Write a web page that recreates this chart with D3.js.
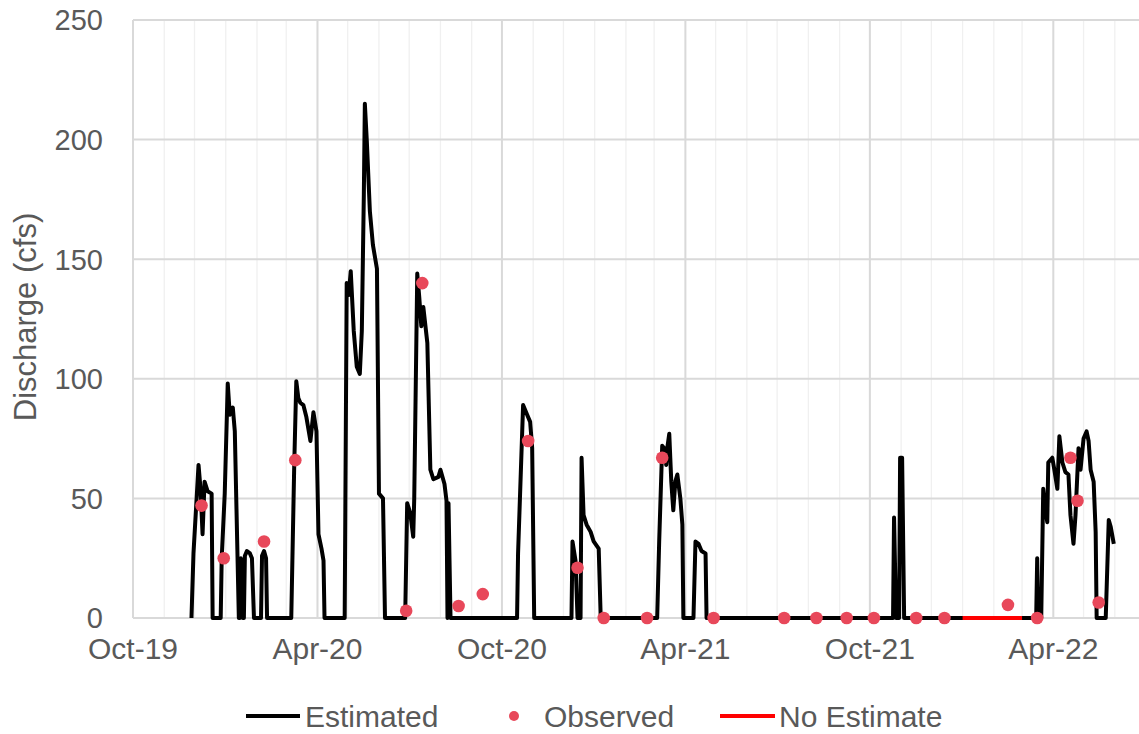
<!DOCTYPE html>
<html><head><meta charset="utf-8">
<script src="https://cdn.jsdelivr.net/npm/d3@7"></script>
<style>
body{margin:0;background:#fff}
svg{display:block}
text{font-family:"Liberation Sans",Arial,sans-serif;fill:#595959}
</style>
</head><body><svg id="c" width="1139" height="734"></svg>
<script>
const estDates = ["2019-11-28","2019-11-30","2019-12-05","2019-12-07","2019-12-09","2019-12-11","2019-12-14","2019-12-18","2019-12-19",
"2019-12-27","2019-12-28","2019-12-31","2020-01-03","2020-01-05","2020-01-08","2020-01-10","2020-01-14",
"2020-01-15","2020-01-16","2020-01-18","2020-01-19","2020-01-20","2020-01-22","2020-01-25","2020-01-27","2020-01-29",
"2020-02-05","2020-02-06","2020-02-08","2020-02-10","2020-02-11",
"2020-03-06","2020-03-09","2020-03-11","2020-03-13","2020-03-15","2020-03-18","2020-03-21","2020-03-25","2020-03-28","2020-03-31",
"2020-04-02","2020-04-05","2020-04-07","2020-04-08","2020-04-28",
"2020-04-30","2020-05-02","2020-05-04","2020-05-07","2020-05-10","2020-05-13","2020-05-15","2020-05-17","2020-05-18","2020-05-20",
"2020-05-23","2020-05-26","2020-05-30","2020-06-01","2020-06-05","2020-06-07","2020-06-27","2020-06-29","2020-07-02","2020-07-05",
"2020-07-06","2020-07-09","2020-07-11","2020-07-13","2020-07-15","2020-07-19","2020-07-22","2020-07-25","2020-07-30","2020-08-01",
"2020-08-05","2020-08-07","2020-08-08","2020-08-09","2020-08-11","2020-10-16","2020-10-17","2020-10-22","2020-10-26","2020-10-29",
"2020-10-31","2020-11-02","2020-12-09","2020-12-10","2020-12-13","2020-12-15","2020-12-18","2020-12-19","2020-12-21","2020-12-24",
"2020-12-28","2020-12-31","2021-01-05","2021-01-07","2021-03-04","2021-03-06","2021-03-09","2021-03-11","2021-03-13","2021-03-14",
"2021-03-16","2021-03-18","2021-03-20","2021-03-22","2021-03-24","2021-03-27","2021-03-29","2021-03-30","2021-04-09","2021-04-11",
"2021-04-14","2021-04-17","2021-04-21","2021-04-22","2021-10-24","2021-10-25","2021-10-27","2021-10-30","2021-10-31","2021-11-02",
"2021-11-04","2022-03-15","2022-03-16","2022-03-17","2022-03-20","2022-03-22","2022-03-24","2022-03-26","2022-03-27","2022-03-31",
"2022-04-02","2022-04-05","2022-04-07","2022-04-10","2022-04-13","2022-04-16","2022-04-18","2022-04-21","2022-04-23","2022-04-26",
"2022-04-28","2022-05-01","2022-05-04","2022-05-06","2022-05-08","2022-05-11","2022-05-13","2022-05-14","2022-05-23","2022-05-26",
"2022-05-28","2022-05-31"];
const estValues = [0,27,64,54,35,57,53,52,0,
0,25,52,98,85,88,78,0,
0,25,0,0,26,28,27,25,0,
0,26,28,25,0,
0,65,99,92,90,89,84,74,86,78,
35,29,24,0,0,
140,135,145,120,105,102,120,177,215,199,
170,156,146,52,50,0,0,48,44,34,
50,144,134,122,130,115,62,58,59,62,
56,49,0,48,0,0,27,89,85,82,
71,0,0,32,24,0,0,67,43,39,
36,32,29,0,0,32,72,71,64,71,
77,57,45,57,60,50,39,0,0,32,
31,28,27,0,0,42,0,0,67,67,
0,0,25,0,0,54,46,40,65,67,
62,54,76,65,61,60,43,31,43,71,
62,75,78,74,62,57,36,0,0,41,
38,31];

const obsDates = ["2019-12-08","2019-12-30","2020-02-08","2020-03-10","2020-06-28","2020-07-14","2020-08-19","2020-09-12","2020-10-27",
"2020-12-15","2021-01-10","2021-02-22","2021-03-09","2021-04-29","2021-07-08","2021-08-09","2021-09-08","2021-10-05","2021-11-16",
"2021-12-14","2022-02-15","2022-03-16","2022-04-18","2022-04-25","2022-05-16"];
const obsValues = [47,25,32,66,3,140,5,10,74,21,0,0,67,0,0,0,0,0,0,0,5.5,0,67,49,6.5];

const noEstDates = ["2022-01-01","2022-03-01"];
const noEstValues = [0,0];

const yTicks = [0,50,100,150,200,250];
const xTickDates = ["2019-10-01","2020-04-01","2020-10-01","2021-04-01","2021-10-01","2022-04-01"];
const xTickLabels = ["Oct-19","Apr-20","Oct-20","Apr-21","Oct-21","Apr-22"];
const seriesNames = ["Estimated","Observed","No Estimate"];

const parse = d3.utcParse("%Y-%m-%d");
const svg = d3.select("#c");
const L = 133, R = 1139, T = 20, B = 618;
const x = d3.scaleUtc().domain([parse("2019-10-01"), parse("2022-06-25")]).range([L, R]);
const y = d3.scaleLinear().domain([0, 250]).range([B, T]);

// minor monthly gridlines
const months = d3.utcMonth.range(parse("2019-10-01"), parse("2022-07-01"));
svg.append("g").selectAll("line").data(months).join("line")
  .attr("x1", d => x(d)).attr("x2", d => x(d)).attr("y1", T).attr("y2", B)
  .attr("stroke", "#f0f0f0").attr("stroke-width", 1.3);
// major horizontal gridlines
svg.append("g").selectAll("line").data(yTicks).join("line")
  .attr("x1", L).attr("x2", R).attr("y1", d => y(d)).attr("y2", d => y(d))
  .attr("stroke", "#d9d9d9").attr("stroke-width", 2);
// major vertical gridlines
svg.append("g").selectAll("line").data(xTickDates).join("line")
  .attr("x1", d => x(parse(d))).attr("x2", d => x(parse(d))).attr("y1", T).attr("y2", B)
  .attr("stroke", "#d9d9d9").attr("stroke-width", 2);

// y tick labels
svg.append("g").selectAll("text").data(yTicks).join("text")
  .attr("x", 103).attr("y", d => y(d)).attr("dy", "0.36em")
  .attr("text-anchor", "end").attr("font-size", 29).text(d => d);
// x tick labels
svg.append("g").selectAll("text").data(xTickDates).join("text")
  .attr("x", d => x(parse(d))).attr("y", 659)
  .attr("text-anchor", "middle").attr("font-size", 30).text((d, i) => xTickLabels[i]);
// y axis title
svg.append("text").attr("transform", "translate(36,317) rotate(-90)")
  .attr("text-anchor", "middle").attr("font-size", 31).text("Discharge (cfs)");

// estimated line
const estData = estDates.map((d, i) => ({ d: parse(d), v: estValues[i] }));
const line = d3.line().x(p => x(p.d)).y(p => y(p.v));
svg.append("path").datum(estData).attr("d", line)
  .attr("fill", "none").attr("stroke", "#000").attr("stroke-width", 4)
  .attr("stroke-linejoin", "round");
// no estimate line
const noData = noEstDates.map((d, i) => ({ d: parse(d), v: noEstValues[i] }));
svg.append("path").datum(noData).attr("d", line)
  .attr("fill", "none").attr("stroke", "#ff0000").attr("stroke-width", 4);
// observed
const obsData = obsDates.map((d, i) => ({ d: parse(d), v: obsValues[i] }));
svg.append("g").selectAll("circle").data(obsData).join("circle")
  .attr("cx", p => x(p.d)).attr("cy", p => y(p.v)).attr("r", 6.3)
  .attr("fill", "#e8485a");

// legend
const lg = svg.append("g");
const ly = 716;
lg.append("line").attr("x1", 246).attr("x2", 300).attr("y1", ly).attr("y2", ly)
  .attr("stroke", "#000").attr("stroke-width", 4);
lg.append("text").attr("x", 305).attr("y", ly).attr("dy", "0.36em").attr("font-size", 30).text(seriesNames[0]);
lg.append("circle").attr("cx", 514).attr("cy", ly).attr("r", 5).attr("fill", "#e8485a");
lg.append("text").attr("x", 544).attr("y", ly).attr("dy", "0.36em").attr("font-size", 30).text(seriesNames[1]);
lg.append("line").attr("x1", 720).attr("x2", 775).attr("y1", ly).attr("y2", ly)
  .attr("stroke", "#ff0000").attr("stroke-width", 4);
lg.append("text").attr("x", 779).attr("y", ly).attr("dy", "0.36em").attr("font-size", 30).text(seriesNames[2]);
</script>
</body></html>
